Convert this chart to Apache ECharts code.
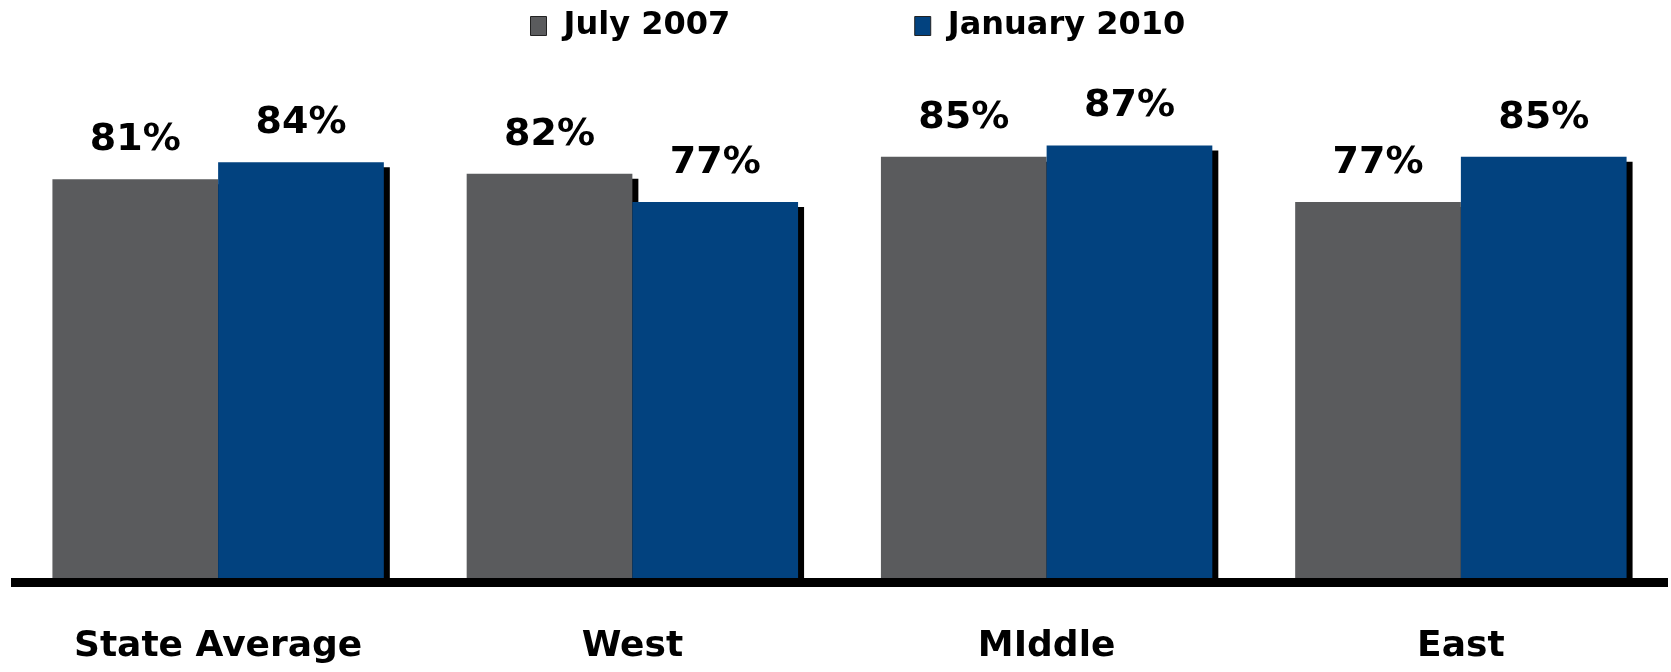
<!DOCTYPE html>
<html>
<head>
<meta charset="utf-8">
<script src="https://cdn.jsdelivr.net/npm/echarts@6/dist/echarts.min.js"></script>
<style>
  html, body { margin: 0; padding: 0; background: #fff; }
  #chart { width: 1671px; height: 672px; }
</style>
</head>
<body>
<div id="chart"></div>
<script>
// regions and the two survey dates
var categories = ['State Average', 'West', 'MIddle', 'East'];
var july2007 = [81, 82, 85, 77];
var january2010 = [84, 77, 87, 85];

var FONT = 'DejaVu Sans';

// shared bar style: hard black drop shadow, no outline (outline shadow bleeds inside)
function barStyle(color) {
    return {
        color: color,
        shadowColor: '#000',
        shadowBlur: 0,
        shadowOffsetX: 6,
        shadowOffsetY: 5
    };
}

var valueLabel = {
    show: true,
    position: 'top',
    distance: 20,
    formatter: '{c}%',
    color: '#000',
    fontFamily: FONT,
    fontWeight: 'bold',
    fontSize: 38
};

var chart = echarts.init(document.getElementById('chart'));
chart.setOption({
    animation: false,
    legend: {
        left: 525,
        top: 5,
        icon: 'rect',
        itemGap: 184,
        itemWidth: 16,
        itemHeight: 19,
        itemStyle: { borderColor: '#222', borderWidth: 1 },
        textStyle: {
            fontFamily: FONT,
            fontWeight: 'bold',
            fontSize: 32,
            color: '#000',
            padding: [0, 0, 0, 12]
        },
        data: ['July 2007', 'January 2010']
    },
    grid: {
        left: 11,
        right: 3,
        top: 72,
        bottom: 90
    },
    xAxis: {
        type: 'category',
        data: categories,
        z: 5,
        axisTick: { show: false },
        axisLine: { lineStyle: { color: '#000', width: 9, cap: 'butt' } },
        axisLabel: {
            margin: 47,
            color: '#000',
            fontFamily: FONT,
            fontWeight: 'bold',
            fontSize: 36
        }
    },
    yAxis: {
        type: 'value',
        min: 9.7,
        max: 100,
        show: false
    },
    series: [
        {
            name: 'July 2007',
            type: 'bar',
            data: july2007,
            barGap: '0%',
            barCategoryGap: '20%',
            itemStyle: barStyle('#5a5b5d'),
            label: valueLabel
        },
        {
            name: 'January 2010',
            type: 'bar',
            data: january2010,
            itemStyle: barStyle('#02427f'),
            label: valueLabel
        }
    ]
});
</script>
</body>
</html>
